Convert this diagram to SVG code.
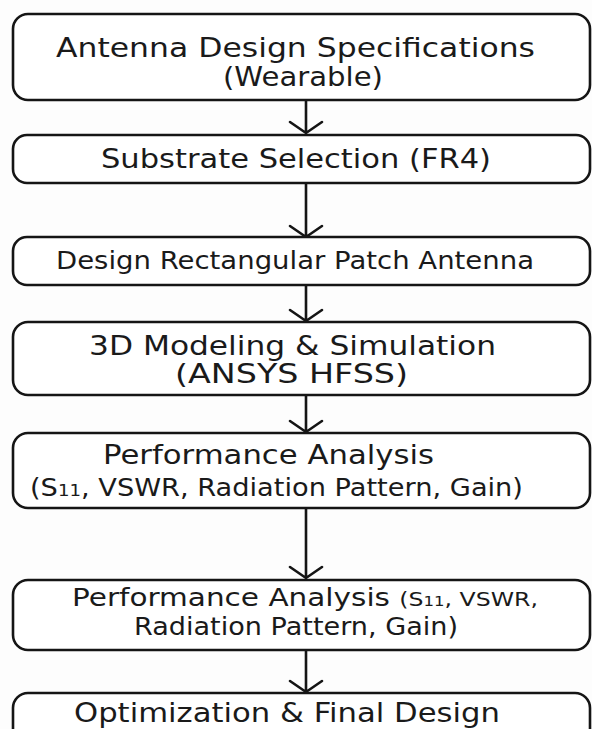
<svg xmlns="http://www.w3.org/2000/svg" width="592" height="729" viewBox="0 0 592 729">
<style>
.box{fill:#ffffff;stroke:#151515;stroke-width:2.6}
.t{font-family:"DejaVu Sans","Liberation Sans",sans-serif;fill:#1a1a1a}
.c{stroke:#151515;stroke-width:2.6;fill:none;stroke-linecap:round;stroke-linejoin:round}
</style>
<rect width="592" height="729" fill="#fdfdfd"/>
<g id="connectors">
<path class="c" d="M306 100V133M290 122L306 133L322 122"/>
<path class="c" d="M306 183V237M290 226L306 237L322 226"/>
<path class="c" d="M306 285V321M290 310L306 321L322 310"/>
<path class="c" d="M306 395V432M290 421L306 432L322 421"/>
<path class="c" d="M306 508V578M290 567L306 578L322 567"/>
<path class="c" d="M306 650V692M290 681L306 692L322 681"/>
</g>
<g id="n1">
<rect class="box" x="13" y="14" width="577" height="86" rx="15"/>
<text class="t" x="295.5" y="57" font-size="27" text-anchor="middle" textLength="479" lengthAdjust="spacingAndGlyphs">Antenna Design Specifications</text>
<text class="t" x="303" y="86" font-size="27" text-anchor="middle" textLength="160" lengthAdjust="spacingAndGlyphs">(Wearable)</text>
</g>
<g id="n2">
<rect class="box" x="13" y="135" width="577" height="48" rx="14"/>
<text class="t" x="296" y="168" font-size="26" text-anchor="middle" textLength="390" lengthAdjust="spacingAndGlyphs">Substrate Selection (FR4)</text>
</g>
<g id="n3">
<rect class="box" x="13" y="237" width="577" height="48" rx="14"/>
<text class="t" x="295" y="269" font-size="24" text-anchor="middle" textLength="478" lengthAdjust="spacingAndGlyphs">Design Rectangular Patch Antenna</text>
</g>
<g id="n4">
<rect class="box" x="13" y="322" width="577" height="73" rx="15"/>
<text class="t" x="292.5" y="355" font-size="26" text-anchor="middle" textLength="407" lengthAdjust="spacingAndGlyphs">3D Modeling &amp; Simulation</text>
<text class="t" x="291.5" y="383" font-size="26" text-anchor="middle" textLength="233" lengthAdjust="spacingAndGlyphs">(ANSYS HFSS)</text>
</g>
<g id="n5">
<rect class="box" x="13" y="433" width="577" height="75" rx="15"/>
<text class="t" x="103" y="464" font-size="26" textLength="331" lengthAdjust="spacingAndGlyphs">Performance Analysis</text>
<text class="t" x="30" y="496" font-size="24" textLength="493" lengthAdjust="spacingAndGlyphs">(S<tspan font-size="16">11</tspan>, VSWR, Radiation Pattern, Gain)</text>
</g>
<g id="n6">
<rect class="box" x="13" y="580" width="577" height="70" rx="15"/>
<text class="t" x="72" y="606" font-size="25" textLength="466" lengthAdjust="spacingAndGlyphs">Performance Analysis <tspan font-size="20">(S</tspan><tspan font-size="14">11</tspan><tspan font-size="20">, VSWR,</tspan></text>
<text class="t" x="296" y="635" font-size="25" text-anchor="middle" textLength="324" lengthAdjust="spacingAndGlyphs">Radiation Pattern, Gain)</text>
</g>
<g id="n7">
<rect class="box" x="13" y="693" width="577" height="60" rx="15"/>
<text class="t" x="287" y="722" font-size="26" text-anchor="middle" textLength="426" lengthAdjust="spacingAndGlyphs">Optimization &amp; Final Design</text>
</g>
</svg>
